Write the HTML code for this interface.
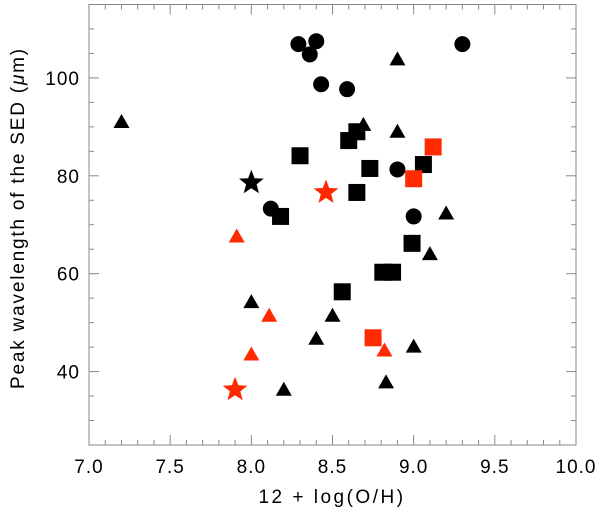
<!DOCTYPE html>
<html><head><meta charset="utf-8"><style>
html,body{margin:0;padding:0;background:#fff;}
svg{display:block;font-family:"Liberation Sans","DejaVu Sans",sans-serif;}
</style></head><body>
<svg id="chart" width="600" height="514" xmlns="http://www.w3.org/2000/svg">
<g id="axes"></g>
<g id="marks"></g>
<text x="332" y="503" text-anchor="middle" font-size="19" letter-spacing="2.5" fill="#000">12 + log(O/H)</text>
<text transform="translate(24,218) rotate(-90)" text-anchor="middle" font-size="19" letter-spacing="1.8" fill="#000">Peak wavelength of the SED (<tspan font-style="italic">μ</tspan>m)</text>
</svg>
<script>
const xTicks=[7.0,7.5,8.0,8.5,9.0,9.5,10.0];
const xTickLabels=["7.0","7.5","8.0","8.5","9.0","9.5","10.0"];
const yTicks=[40,60,80,100];
const yTickLabels=["40","60","80","100"];
const circleX=[8.29,8.40,8.36,8.43,8.59,9.30,8.90,8.12,9.00];
const circleY=[106.9,107.5,104.8,98.7,97.7,106.9,81.3,73.3,71.7];
const triX=[7.20,8.90,8.69,8.90,9.20,9.10,8.00,8.50,8.40,9.00,8.83,8.20];
const triY=[91.0,103.8,90.4,89.0,72.3,64.0,54.2,51.4,46.7,45.1,37.8,36.3];
const redTriX=[7.91,8.11,8.00,8.82];
const redTriY=[67.6,51.4,43.5,44.3];
const sqX=[8.30,8.60,8.65,8.73,8.65,8.18,9.06,8.99,8.81,8.87,8.56];
const sqY=[84.1,87.2,89.0,81.5,76.6,71.7,82.3,66.2,60.3,60.3,56.3];
const redSqX=[9.12,9.00,8.75];
const redSqY=[85.9,79.4,46.9];
const starX=[8.00];
const starY=[78.6];
const redStarX=[8.46,7.90];
const redStarY=[76.6,36.3];

const NS="http://www.w3.org/2000/svg";
const L=89,R=576,T=4.5,B=445,xmin=7,xmax=10,ymin=25,ymax=115;
const RED="#ff2a00";
function sx(v){return L+(v-xmin)/(xmax-xmin)*(R-L);}
function sy(v){return B-(v-ymin)/(ymax-ymin)*(B-T);}
function mk(tag,attrs,parent){const e=document.createElementNS(NS,tag);for(const k in attrs)e.setAttribute(k,attrs[k]);parent.appendChild(e);return e;}
const axes=document.getElementById('axes'),marks=document.getElementById('marks');
const frame=mk('rect',{x:L,y:T,width:R-L,height:B-T,fill:'none',stroke:'#888','stroke-width':1},axes);


for(let v=7;v<=10.001;v+=0.1){
  const x=sx(v);const major=Math.abs(v*2-Math.round(v*2))<1e-6;const len=major?10:5;
  mk('line',{x1:x,y1:B,x2:x,y2:B-len,stroke:'#888'},axes);
  mk('line',{x1:x,y1:T,x2:x,y2:T+len,stroke:'#888'},axes);
}
for(let v=25;v<=115;v+=5){
  const y=sy(v);const major=v%20===0;const len=major?10:5;
  mk('line',{x1:L,y1:y,x2:L+len,y2:y,stroke:'#888'},axes);
  mk('line',{x1:R,y1:y,x2:R-len,y2:y,stroke:'#888'},axes);
}
xTicks.forEach((v,i)=>{
  const t=mk('text',{x:sx(v),y:473,'text-anchor':'middle','font-size':19,'letter-spacing':1,fill:'#000'},axes);
  t.textContent=xTickLabels[i];
  
  
});
yTicks.forEach((v,i)=>{
  const t=mk('text',{x:80,y:sy(v)+7,'text-anchor':'end','font-size':19,'letter-spacing':1,fill:'#000'},axes);
  t.textContent=yTickLabels[i];
  
  
});
function circle(x,y,c){const e=mk('circle',{cx:sx(x),cy:sy(y),r:8,fill:c},marks);
  
  }
function tri(x,y,c){const cx=sx(x),cy=sy(y);const e=mk('polygon',{points:`${cx-8},${cy+6} ${cx+8},${cy+6} ${cx},${cy-8}`,fill:c},marks);
  
  }
function sq(x,y,c){const e=mk('rect',{x:sx(x)-8.5,y:sy(y)-8.5,width:17,height:17,fill:c},marks);
  
  }
function star(x,y,c){const cx=sx(x),cy=sy(y);let p=[];for(let i=0;i<10;i++){const r=i%2?5.5:13;const a=-Math.PI/2+i*Math.PI/5;p.push((cx+r*Math.cos(a)).toFixed(1)+','+(cy+r*Math.sin(a)).toFixed(1));}
  const e=mk('polygon',{points:p.join(' '),fill:c},marks);
  
  }
circleX.forEach((x,i)=>circle(x,circleY[i],'#000'));
triX.forEach((x,i)=>tri(x,triY[i],'#000'));
redTriX.forEach((x,i)=>tri(x,redTriY[i],RED));
sqX.forEach((x,i)=>sq(x,sqY[i],'#000'));
redSqX.forEach((x,i)=>sq(x,redSqY[i],RED));
starX.forEach((x,i)=>star(x,starY[i],'#000'));
redStarX.forEach((x,i)=>star(x,redStarY[i],RED));
</script>
</body></html>
